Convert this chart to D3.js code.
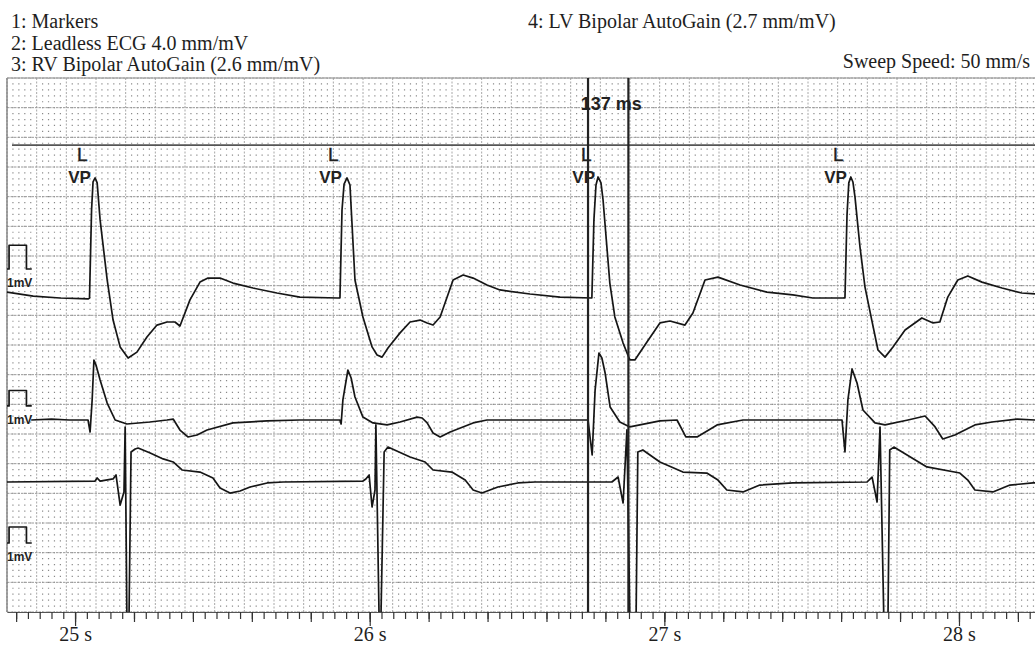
<!DOCTYPE html>
<html lang="en">
<head>
  <meta charset="UTF-8">
  <script src="https://d3js.org/d3.v7.min.js"></script>
  <style>
    body { margin: 0; background: #fff; }
    .hdr { font-family: "Liberation Serif", "Times New Roman", serif; font-size: 20px; fill: #1e1e1e; }
    .mark { font-family: "Liberation Sans", Arial, sans-serif; fill: #222; }
    .trace { fill: none; stroke: #161616; stroke-width: 1.7; stroke-linejoin: round; }
    .axis text { font-family: "Liberation Serif", "Times New Roman", serif; font-size: 20px; fill: #1e1e1e; }
    .axis line { stroke: #333; stroke-width: 1.2; }
  </style>
  <title>Intracardiac EGM</title>
</head>
<body>
  <div id="chart"></div>
  <script>
    // channel header text
    var headerLeft = ["1: Markers", "2: Leadless ECG 4.0 mm/mV", "3: RV Bipolar AutoGain (2.6 mm/mV)"];
    var headerRight = "4: LV Bipolar AutoGain (2.7 mm/mV)";
    var sweepText = "Sweep Speed: 50 mm/s";

    // time ticks (s)
    var majorTicks = [25, 26, 27, 28];

    // paced events (s) and marker label
    var paceTimes = [25.047, 25.899, 26.758, 27.613];
    var paceLabel = "VP";

    // caliper (s)
    var caliperTimes = [26.741, 26.878];
    var caliperLabel = "137 ms";

    // gains in mm/mV
    var gains = { ecg: 4.0, rv: 2.6, lv: 2.7 };

    // [time s, mV]
    var ecgTrace = [
      [24.769,0.25],[24.858,0.08],[24.949,0],[25.044,-0.04],[25.049,0],[25.056,3.71],[25.061,4.89],[25.068,5.06],
      [25.075,4.85],[25.085,3.29],[25.109,0.76],[25.129,-0.93],[25.153,-2.06],[25.180,-2.53],[25.210,-2.28],
      [25.244,-1.64],[25.278,-1.14],[25.312,-1.01],[25.339,-1.01],[25.356,-1.18],[25.390,-0.08],[25.424,0.67],
      [25.451,0.84],[25.492,0.84],[25.536,0.63],[25.604,0.42],[25.685,0.21],[25.763,0.04],[25.892,0],
      [25.899,0],[25.906,3.71],[25.913,4.80],[25.923,5.06],[25.933,4.76],[25.950,0.76],[25.977,-0.80],
      [26.008,-2.06],[26.025,-2.40],[26.042,-2.49],[26.062,-2.11],[26.103,-1.47],[26.137,-1.01],[26.171,-0.93],
      [26.195,-1.05],[26.215,-1.14],[26.239,-0.80],[26.283,0.76],[26.317,0.97],[26.351,0.84],[26.398,0.55],
      [26.442,0.34],[26.544,0.17],[26.646,0.04],[26.754,0],
      [26.761,3.29],[26.768,4.76],[26.775,5.10],[26.785,4.85],[26.792,4.13],[26.815,0.63],[26.832,-0.80],
      [26.860,-1.90],[26.883,-2.61],[26.900,-2.61],[26.941,-1.85],[26.985,-1.05],[27.019,-0.97],[27.070,-1.14],
      [27.097,-0.63],[27.138,0.76],[27.182,0.88],[27.257,0.55],[27.348,0.25],[27.436,0.13],[27.504,0],[27.613,0],
      [27.620,3.50],[27.626,4.85],[27.633,5.10],[27.640,4.89],[27.647,4.26],[27.664,2.15],[27.681,0.46],
      [27.704,-0.93],[27.725,-2.19],[27.749,-2.49],[27.776,-2.06],[27.817,-1.35],[27.874,-0.84],[27.912,-1.05],
      [27.935,-1.01],[27.962,0.04],[27.996,0.76],[28.030,0.93],[28.078,0.67],[28.146,0.42],[28.213,0.21],[28.258,0.17]
    ];

    var rvTrace = [
      [24.851,0],[24.92,0.06],[24.98,0],[25.044,0],[25.051,-0.78],[25.058,1.30],[25.064,3.89],[25.071,3.56],
      [25.085,2.59],[25.109,1.10],[25.136,0],[25.176,-0.26],[25.254,-0.13],[25.312,0],[25.333,0.06],
      [25.356,-0.65],[25.383,-1.10],[25.414,-0.97],[25.448,-0.65],[25.536,-0.19],[25.652,-0.06],[25.763,0],[25.899,0],
      [25.903,-0.26],[25.909,1.30],[25.926,3.24],[25.937,2.72],[25.950,1.49],[25.977,0.19],[26.011,-0.19],
      [26.059,-0.32],[26.103,-0.13],[26.161,0.19],[26.178,0.13],[26.195,-0.19],[26.215,-0.84],[26.239,-1.10],
      [26.273,-0.78],[26.351,-0.19],[26.398,0],[26.741,0],
      [26.755,-2.27],[26.765,1.94],[26.778,4.34],[26.788,4.02],[26.799,3.05],[26.816,0.84],[26.849,-0.13],
      [26.883,-0.45],[26.985,-0.06],[27.043,0],[27.073,-1.10],[27.111,-1.10],[27.179,-0.32],[27.267,0],[27.603,0],
      [27.613,-2.07],[27.623,1.30],[27.637,3.31],[27.654,2.40],[27.674,0.65],[27.715,-0.19],[27.749,-0.32],
      [27.827,0],[27.885,0.26],[27.919,-0.45],[27.945,-1.23],[27.986,-0.97],[28.054,-0.32],[28.112,-0.13],
      [28.197,0.06],[28.258,0]
    ];

    var lvTrace = [
      [24.769,0],[25.068,0.06],[25.075,0.25],[25.085,0.06],[25.129,0.19],[25.139,0.44],[25.153,-1.44],[25.166,-0.62],
      [25.170,3.43],[25.176,-8.61],[25.183,-8.61],[25.190,1.87],[25.204,2.06],[25.214,2.12],[25.255,1.81],
      [25.299,1.44],[25.333,1.25],[25.363,0.75],[25.424,0.62],[25.468,0.25],[25.492,-0.37],[25.526,-0.69],
      [25.560,-0.56],[25.594,-0.31],[25.652,-0.06],[25.706,0],
      [25.977,0.06],[25.987,0.19],[25.998,0.44],[26.008,-1.56],[26.018,-0.50],[26.021,3.56],[26.032,-8.61],
      [26.038,-8.61],[26.049,1.87],[26.062,2.18],[26.137,1.56],[26.188,1.25],[26.215,0.75],[26.279,0.62],
      [26.324,0.12],[26.351,-0.50],[26.381,-0.69],[26.435,-0.31],[26.503,-0.06],[26.561,0],
      [26.822,0],[26.843,0.31],[26.860,-1.31],[26.873,3.25],[26.883,-8.61],[26.904,-8.61],[26.910,1.87],
      [26.927,2.00],[26.985,1.25],[27.063,0.62],[27.144,0.56],[27.182,0.12],[27.212,-0.50],[27.267,-0.62],
      [27.324,-0.19],[27.436,-0.06],[27.688,0],
      [27.705,0.31],[27.722,-1.25],[27.732,3.43],[27.745,-8.61],[27.759,-8.61],[27.765,2.00],[27.779,2.18],
      [27.891,0.94],[28.003,0.56],[28.030,0.12],[28.054,-0.50],[28.115,-0.62],[28.173,-0.19],[28.251,-0.06],[28.258,-0.06]
    ];

    // 1 mV calibration pulse [s after sweep start, mV]
    var calPulse = [[0,0],[0.007,0],[0.007,1],[0.066,1],[0.066,0],[0.084,0]];

    var width = 1035, height = 647;
    var pLeft = 7, pTop = 78, pRight = 1035, pBottom = 612;

    var svg = d3.select("#chart").append("svg")
      .attr("width", width).attr("height", height);

    var x = d3.scaleLinear().domain([24.769, 28.258]).range([pLeft, pRight]);
    // vertical position in mm of paper (18 big boxes of 5 mm)
    var y = d3.scaleLinear().domain([0, 90]).range([pTop, pBottom]);
    var mm = y(1) - y(0);

    // channel layout: baseline and cal pulse position in mm
    var channels = [
      { data: ecgTrace, gain: gains.ecg, base: 37.08, cal: 32.19, calStart: 24.769 },
      { data: rvTrace,  gain: gains.rv,  base: 57.64, cal: 55.27, calStart: 24.769 },
      { data: lvTrace,  gain: gains.lv,  base: 68.09, cal: 78.37, calStart: 24.769 }
    ];

    // paper grid
    var grid = svg.append("g");
    var cols = d3.range(0, Math.floor((pRight - pLeft) / mm) + 1);
    var rows = d3.range(0, 91);

    grid.selectAll(".vminor").data(cols.filter(function(k) { return k % 5; }))
      .enter().append("line")
      .attr("x1", function(k) { return pLeft + k * mm; }).attr("x2", function(k) { return pLeft + k * mm; })
      .attr("y1", pTop).attr("y2", pBottom)
      .attr("stroke", "#8a8a8a").attr("stroke-width", 1.2)
      .attr("stroke-dasharray", "1.2 " + (mm - 1.2)).attr("stroke-dashoffset", 0.6);

    grid.selectAll(".vmajor").data(cols.filter(function(k) { return k % 5 === 0; }))
      .enter().append("line")
      .attr("x1", function(k) { return pLeft + k * mm; }).attr("x2", function(k) { return pLeft + k * mm; })
      .attr("y1", pTop).attr("y2", pBottom)
      .attr("stroke", "#a8a8a8").attr("stroke-width", 1)
      .attr("stroke-dasharray", "2 1.5");

    grid.selectAll(".hmajor").data(rows.filter(function(k) { return k % 5 === 0; }))
      .enter().append("line")
      .attr("x1", pLeft).attr("x2", pRight)
      .attr("y1", function(k) { return y(k); }).attr("y2", function(k) { return y(k); })
      .attr("stroke", "#9a9a9a").attr("stroke-width", 1)
      .attr("stroke-dasharray", "2.5 1");

    // frame
    grid.append("line").attr("x1", pLeft).attr("x2", pLeft).attr("y1", pTop).attr("y2", pBottom)
      .attr("stroke", "#777").attr("stroke-width", 1.3);
    grid.append("line").attr("x1", pLeft).attr("x2", pRight).attr("y1", pTop).attr("y2", pTop)
      .attr("stroke", "#999").attr("stroke-width", 1);

    svg.append("clipPath").attr("id", "plot")
      .append("rect").attr("x", pLeft).attr("y", pTop).attr("width", pRight - pLeft).attr("height", pBottom - pTop);

    var plot = svg.append("g").attr("clip-path", "url(#plot)");

    // markers channel
    var markerBase = y(11.3);
    plot.append("line").attr("x1", 12).attr("x2", pRight).attr("y1", markerBase).attr("y2", markerBase)
      .attr("stroke", "#555").attr("stroke-width", 1.8);

    plot.selectAll(".mkL").data(paceTimes).enter().append("text")
      .attr("class", "mark")
      .attr("x", function(d) { return x(d) - 12; }).attr("y", markerBase + 16)
      .attr("font-size", 19).attr("stroke", "#222").attr("stroke-width", 0.4).text("L");

    plot.selectAll(".mkVP").data(paceTimes).enter().append("text")
      .attr("class", "mark")
      .attr("x", function(d) { return x(d) + 2; }).attr("y", markerBase + 38)
      .attr("text-anchor", "end").attr("font-size", 17).attr("font-weight", "bold")
      .text(paceLabel);

    // traces and 1 mV pulses
    channels.forEach(function(ch) {
      var line = d3.line()
        .x(function(d) { return x(d[0]); })
        .y(function(d) { return y(ch.base - d[1] * ch.gain); });
      plot.append("path").datum(ch.data).attr("class", "trace").attr("d", line);

      var pulse = d3.line()
        .x(function(d) { return x(ch.calStart + d[0]); })
        .y(function(d) { return y(ch.cal - d[1] * ch.gain); });
      plot.append("path").datum(calPulse).attr("class", "trace")
        .attr("stroke-width", 1.3).attr("d", pulse);

      plot.append("text").attr("class", "mark")
        .attr("x", pLeft).attr("y", y(ch.cal) + 18)
        .attr("font-size", 12).attr("font-weight", "bold")
        .text("1mV");
    });

    // caliper
    plot.selectAll(".cal").data(caliperTimes).enter().append("line")
      .attr("x1", function(d) { return x(d); }).attr("x2", function(d) { return x(d); })
      .attr("y1", pTop).attr("y2", pBottom)
      .attr("stroke", "#222").attr("stroke-width", 2.2);

    svg.append("text").attr("class", "mark")
      .attr("x", (x(caliperTimes[0]) + x(caliperTimes[1])) / 2 + 3).attr("y", 110)
      .attr("text-anchor", "middle").attr("font-size", 18).attr("font-weight", "bold")
      .attr("fill", "#3a3a3a")
      .text(caliperLabel);

    // time axis
    var minorTicks = d3.range(Math.ceil(x.domain()[0] / 0.04), Math.floor(x.domain()[1] / 0.04) + 1)
      .map(function(i) { return +(i * 0.04).toFixed(2); });
    var midTicks = d3.range(Math.ceil(x.domain()[0] / 0.2), Math.floor(x.domain()[1] / 0.2) + 1)
      .map(function(i) { return +(i * 0.2).toFixed(1); });

    var axisG = svg.append("g").attr("class", "axis").attr("transform", "translate(0," + pBottom + ")");
    axisG.append("g")
      .call(d3.axisBottom(x).tickValues(minorTicks).tickSize(7).tickSizeOuter(0).tickFormat(""))
      .select(".domain").attr("stroke", "#555");
    axisG.append("g")
      .call(d3.axisBottom(x).tickValues(midTicks).tickSize(10).tickFormat(""))
      .select(".domain").remove();
    axisG.append("g")
      .call(d3.axisBottom(x).tickValues(majorTicks).tickSize(14).tickPadding(1)
        .tickFormat(function(d) { return d + " s"; }))
      .select(".domain").remove();

    // header
    svg.selectAll(".hl").data(headerLeft).enter().append("text")
      .attr("class", "hdr").attr("x", 11)
      .attr("y", function(d, i) { return 28 + i * 21.5; })
      .text(function(d) { return d; });
    svg.append("text").attr("class", "hdr").attr("x", 528).attr("y", 28).text(headerRight);
    svg.append("text").attr("class", "hdr").attr("x", 1030).attr("y", 68)
      .attr("text-anchor", "end").text(sweepText);
  </script>
</body>
</html>
